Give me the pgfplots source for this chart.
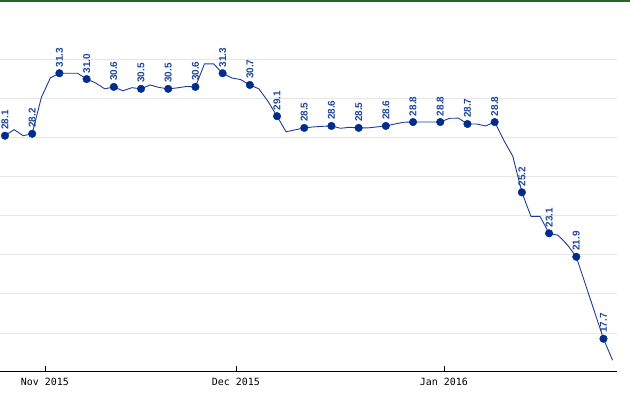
\documentclass[border=0pt]{standalone}
\usepackage{fontspec}
\usepackage{pgfplots}
\usepackage{pgfplotstable}
\pgfplotsset{compat=1.18}
\newfontfamily\monofont{DejaVu Sans Mono}
\newfontfamily\labfont{Liberation Sans}
\definecolor{linecol}{RGB}{30,60,150}
\definecolor{markcol}{RGB}{0,45,140}
\definecolor{labcol}{RGB}{30,70,155}
\definecolor{gridcol}{RGB}{230,230,230}
\definecolor{topgreen}{RGB}{40,100,40}

\pgfplotstableread{
i v
0 28.1
1 28.41
2 28.1
3 28.2
4 30.05
5 31.06
6 31.3
7 31.3
8 31.3
9 31.0
10 30.8
11 30.5
12 30.6
13 30.4
14 30.56
15 30.5
16 30.7
17 30.57
18 30.5
19 30.55
20 30.62
21 30.6
22 31.78
23 31.78
24 31.3
25 31.06
26 30.97
27 30.7
28 30.5
29 29.86
30 29.1
31 28.3
32 28.4
33 28.5
34 28.55
35 28.58
36 28.6
37 28.48
38 28.53
39 28.5
40 28.5
41 28.55
42 28.6
43 28.7
44 28.79
45 28.8
46 28.8
47 28.8
48 28.8
49 28.99
50 29.0
51 28.7
52 28.7
53 28.6
54 28.8
55 27.87
56 27.05
57 25.2
58 23.97
59 23.97
60 23.1
61 23.0
62 22.52
63 21.9
64 20.5
65 19.1
66 17.7
67 16.6
}\linedata

\pgfplotstableread{
i v lab
0 28.1 28.1
3 28.2 28.2
6 31.3 31.3
9 31.0 31.0
12 30.6 30.6
15 30.5 30.5
18 30.5 30.5
21 30.6 30.6
24 31.3 31.3
27 30.7 30.7
30 29.1 29.1
33 28.5 28.5
36 28.6 28.6
39 28.5 28.5
42 28.6 28.6
45 28.8 28.8
48 28.8 28.8
51 28.7 28.7
54 28.8 28.8
57 25.2 25.2
60 23.1 23.1
63 21.9 21.9
66 17.7 17.7
}\markdata

\begin{document}
\begin{tikzpicture}
\path[use as bounding box] (0,-23bp) rectangle (630bp,371bp);
\draw[topgreen, line width=2bp] (0,370bp) -- (630bp,370bp);
\begin{axis}[
  at={(0,0)}, anchor=south west,
  scale only axis,
  width=617bp, height=371bp,
  xmin=-0.551, xmax=67.49,
  ymin=16.05, ymax=35.05,
  axis lines*=left,
  y axis line style={draw=none},
  x axis line style={black, line width=1bp},
  ytick={18,20,...,32},
  yticklabels={},
  ytick style={draw=none},
  ymajorgrids=true,
  grid style={gridcol, line width=0.8bp},
  xtick={4.41,25.47,48.41},
  xticklabels={Nov 2015, Dec 2015, Jan 2016},
  xtick pos=bottom,
  tick align=inside,
  major tick length=5bp,
  xtick style={black, line width=0.8bp},
  xticklabel style={font=\monofont\fontsize{10}{12}\selectfont, text=black, yshift=-3.5bp},
  clip=false,
]
\addplot[linecol, line width=0.9bp, no marks] table[x=i, y=v] {\linedata};
\addplot[only marks, mark=*, mark size=3.8bp, mark options={fill=markcol, draw=markcol},
  point meta=explicit symbolic,
  nodes near coords,
  every node near coord/.append style={rotate=90, anchor=west, inner xsep=5.8bp, inner ysep=0pt,
    font=\labfont\bfseries\fontsize{10}{12}\selectfont, text=labcol},
] table[x=i, y=v, meta=lab] {\markdata};
\end{axis}
\end{tikzpicture}
\end{document}
